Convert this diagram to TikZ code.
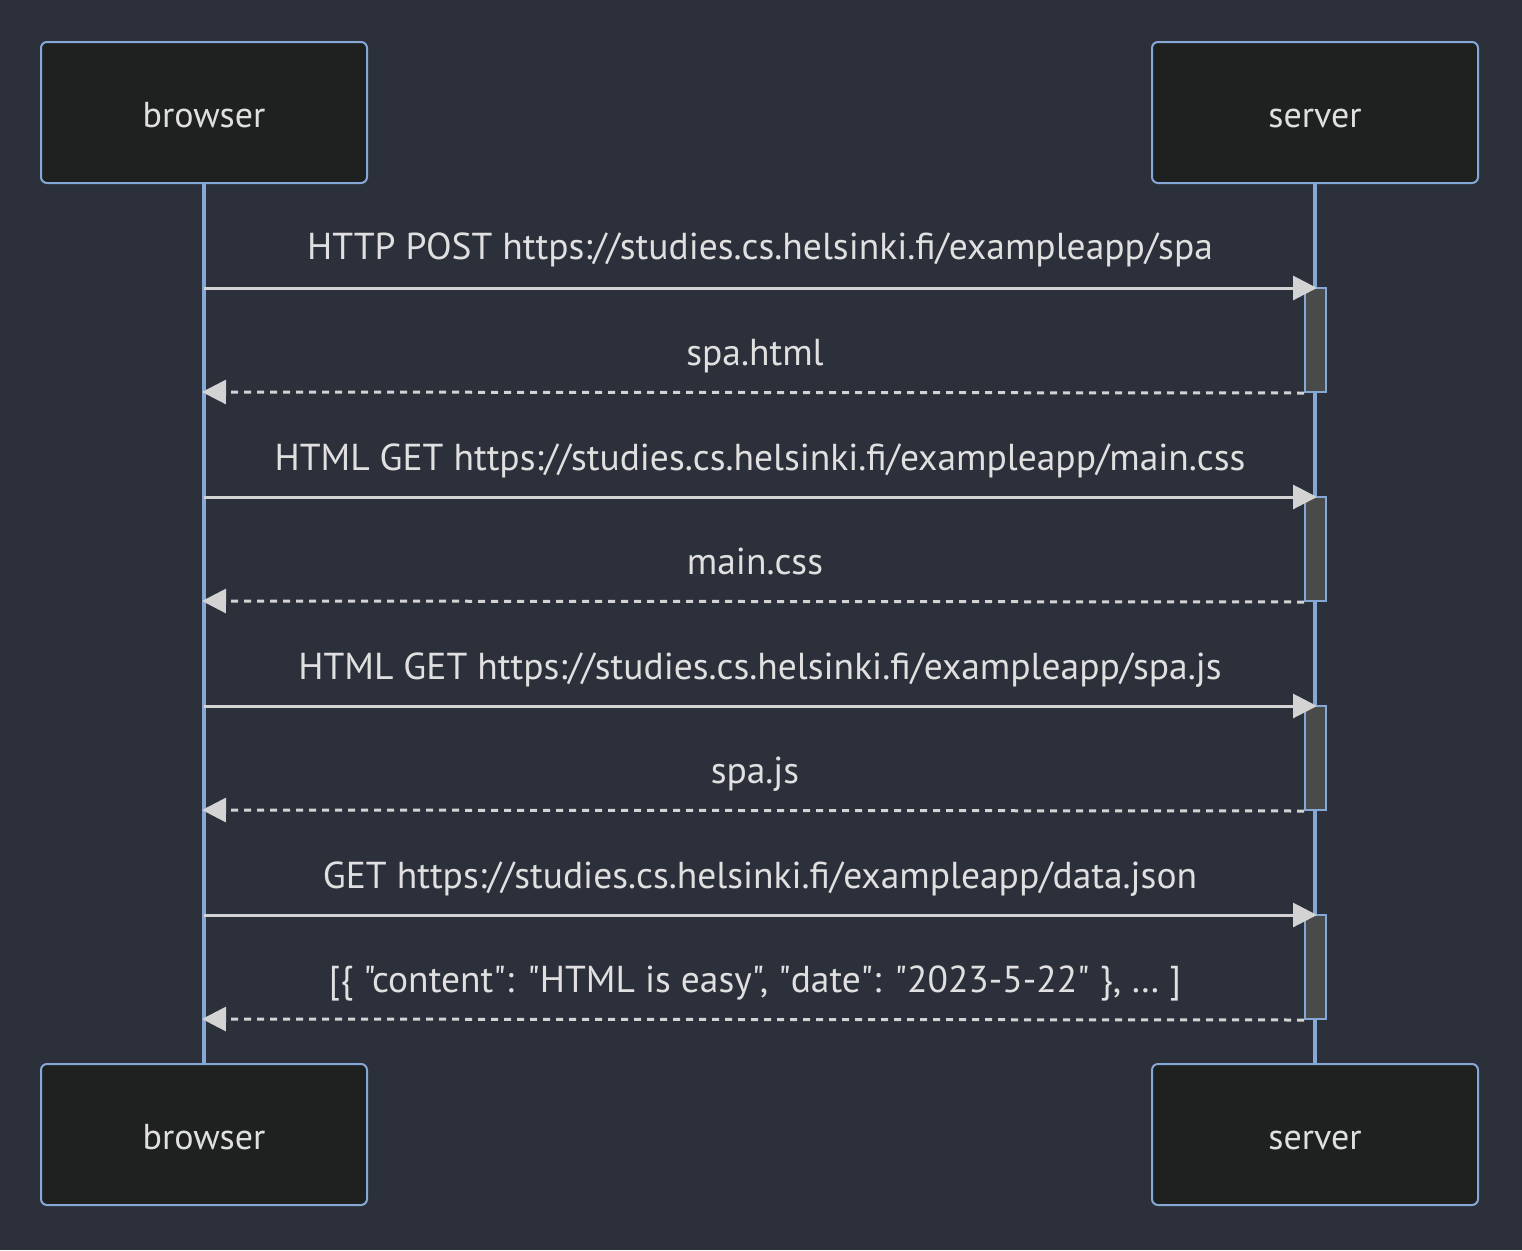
\documentclass[tikz,border=0pt]{standalone}
\usepackage{fontspec}
\setmainfont{PT Sans}[Ligatures=TeXOff]
\usetikzlibrary{arrows.meta,positioning}

\definecolor{bgcol}{RGB}{44,48,59}
\definecolor{actorfill}{RGB}{31,32,32}
\definecolor{actorline}{RGB}{134,168,214}
\definecolor{msgline}{RGB}{211,211,211}
\definecolor{msgtext}{RGB}{224,224,224}
\definecolor{actfill}{RGB}{73,75,75}

\begin{document}
\begin{tikzpicture}[x=1pt,y=-1pt]

\tikzset{
actor/.style={draw=actorline,fill=actorfill,line width=2pt,rounded corners=6pt,
  minimum width=326pt,minimum height=141pt,text=msgtext,
  text height=29pt,text depth=0pt,
  font=\fontsize{36}{42}\selectfont},
lifeline/.style={draw=actorline,line width=3.5pt},
activation/.style={draw=actorline,fill=actfill,line width=2pt,
  minimum width=21pt,inner sep=0pt},
request/.style={draw=msgline,line width=3pt,-{Triangle[length=24pt,width=24pt]}},
reply/.style={draw=msgline,line width=3pt,dash pattern=on 7pt off 6pt,
  -{Triangle[length=24pt,width=24pt]}},
msglabel/.style={text=msgtext,font=\fontsize{37.5}{44}\selectfont,inner sep=0pt,
  text height=24pt,text depth=0pt}
}

% Background
\useasboundingbox[fill=bgcol] (0,0) rectangle (1522,1250);

% Actors
\node[actor] (browserTop) at (204,112.5) {browser};
\node[actor] (serverTop) at (1315,112.5) {server};
\node[actor] (browserBot) at (204,1134.5) {browser};
\node[actor] (serverBot) at (1315,1134.5) {server};

% Lifelines
\draw[lifeline] (browserTop.south) -- (browserBot.north);
\draw[lifeline] (serverTop.south) -- (serverBot.north);

% Activations
\node[activation,minimum height=104pt] (act1) at (1315.5,340) {};
\node[activation,minimum height=104pt] (act2) at (1315.5,549) {};
\node[activation,minimum height=104pt] (act3) at (1315.5,758) {};
\node[activation,minimum height=104pt] (act4) at (1315.5,967) {};

% Message ends on the lifelines
\coordinate (b1) at (204,288);
\coordinate (b2) at (202,392);
\coordinate (b3) at (204,497);
\coordinate (b4) at (202,601);
\coordinate (b5) at (204,706);
\coordinate (b6) at (202,810);
\coordinate (b7) at (204,915);
\coordinate (b8) at (202,1019);
\coordinate (s1) at (1317,288);
\coordinate (s3) at (1317,497);
\coordinate (s5) at (1317,706);
\coordinate (s7) at (1317,915);

% Messages
\draw[request] (b1) -- (s1);
\draw[reply] (act1.south west) -- (b2);
\draw[request] (b3) -- (s3);
\draw[reply] (act2.south west) -- (b4);
\draw[request] (b5) -- (s5);
\draw[reply] (act3.south west) -- (b6);
\draw[request] (b7) -- (s7);
\draw[reply] (act4.south west) -- (b8);

% Labels
\node[msglabel] (lab1) at (760,247) {HTTP POST https://studies.cs.helsinki.fi/exampleapp/spa};
\node[msglabel] (lab2) at (755,353) {spa.html};
\node[msglabel] (lab3) at (760,458) {HTML GET https://studies.cs.helsinki.fi/exampleapp/main.css};
\node[msglabel] (lab4) at (755,562) {main.css};
\node[msglabel] (lab5) at (760,667) {HTML GET https://studies.cs.helsinki.fi/exampleapp/spa.js};
\node[msglabel] (lab6) at (755,771) {spa.js};
\node[msglabel] (lab7) at (760,876) {GET https://studies.cs.helsinki.fi/exampleapp/data.json};
\node[msglabel] (lab8) at (755,980) {[\{ "content": "HTML is easy", "date": "2023-5-22" \}, \dots\ ]};

\end{tikzpicture}
\end{document}
